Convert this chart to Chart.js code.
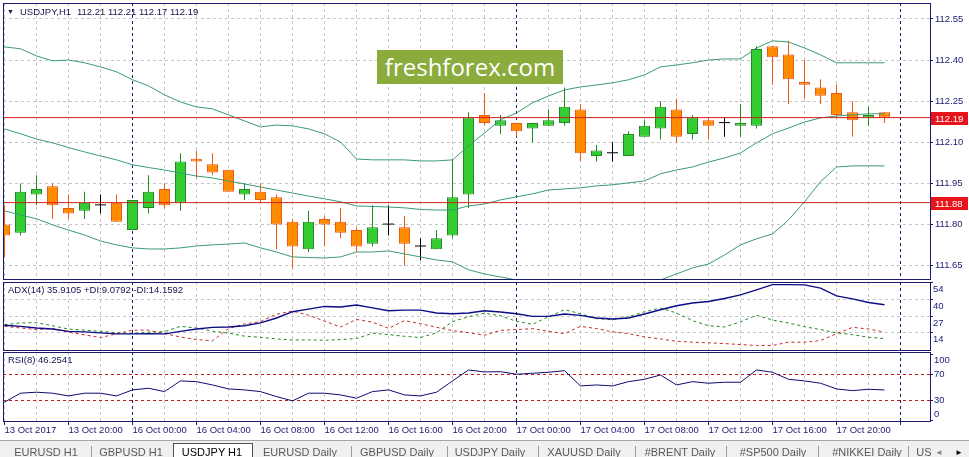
<!DOCTYPE html>
<html>
<head>
<meta charset="utf-8">
<title>USDJPY,H1</title>
<script src="https://cdn.jsdelivr.net/npm/chart.js@4.4.0/dist/chart.umd.min.js"></script>
<style>
  html, body { margin: 0; padding: 0; background: #fff; }
  body { width: 969px; height: 457px; overflow: hidden; position: relative; font-family: 'Liberation Sans', Arial, sans-serif; }
  canvas { position: absolute; left: 0; }
  .head { position: absolute; font-size: 9.5px; color: #14144e; white-space: pre; line-height: 12px; }
  #wm { position: absolute; left: 377px; top: 50px; width: 186px; height: 34px; background: #8bab3c;
        color: #fff; font: 24px 'Open Sans', sans-serif; text-align: center; line-height: 33px; }
  #tabs { position: absolute; left: 0; top: 440px; width: 969px; height: 17px; background: #f0f0f0; border-top: 1px solid #a8a8a8; }
  .tab { position: absolute; top: 5px; font-size: 11px; color: #5a5a5a; transform: translateX(-50%); white-space: nowrap; }
  .sep { position: absolute; top: 5px; width: 1px; height: 12px; background: #9a9a9a; }
  #active { position: absolute; left: 173px; top: 2px; width: 78px; height: 16px; background: #fff;
            border: 1px solid #505050; border-bottom: none; }
</style>
</head>
<body>
<canvas id="main" width="969" height="281" style="top:0"></canvas>
<canvas id="adx" width="969" height="70" style="top:281px"></canvas>
<canvas id="rsi" width="969" height="89" style="top:351px"></canvas>

<div class="head" style="left:7px;top:6px;font-size:7px">&#9660;</div>
<div class="head" style="left:20px;top:6px">USDJPY,H1</div>
<div class="head" style="left:77px;top:6px">112.21 112.21 112.17 112.19</div>
<div class="head" style="left:8px;top:284px">ADX(14) 35.9105 +DI:9.0792 -DI:14.1592</div>
<div class="head" style="left:8px;top:354px">RSI(8) 46.2541</div>
<div id="wm">freshforex.com</div>

<div id="tabs">
  <div id="active"></div>
  <span class="tab" style="left:46px">EURUSD H1</span>
  <span class="sep" style="left:91px"></span>
  <span class="tab" style="left:131px">GBPUSD H1</span>
  <span class="tab" style="left:212px;color:#000">USDJPY H1</span>
  <span class="tab" style="left:300px">EURUSD Daily</span>
  <span class="sep" style="left:351px"></span>
  <span class="tab" style="left:397px">GBPUSD Daily</span>
  <span class="sep" style="left:447px"></span>
  <span class="tab" style="left:490px">USDJPY Daily</span>
  <span class="sep" style="left:538px"></span>
  <span class="tab" style="left:584px">XAUUSD Daily</span>
  <span class="sep" style="left:635px"></span>
  <span class="tab" style="left:680px">#BRENT Daily</span>
  <span class="sep" style="left:726px"></span>
  <span class="tab" style="left:773px">#SP500 Daily</span>
  <span class="sep" style="left:818px"></span>
  <span class="tab" style="left:867px">#NIKKEI Daily</span>
  <span class="sep" style="left:908px"></span>
  <span class="tab" style="left:924px">US</span>
  <span class="tab" style="left:939px;font-size:8px;top:7px;color:#888">&#9668;</span>
  <span class="tab" style="left:959px;font-size:8px;top:7px;color:#000">&#9658;</span>
</div>

<script>
// hourly bars from 13 Oct 2017 16:00 to 17 Oct 23:00 (index = bar number)
const opens = [111.80,111.77,111.91,111.94,111.86,111.85,111.87,111.88,111.78,111.86,
  111.93,111.88,112.04,112.02,112.00,111.91,111.92,111.90,111.81,111.71,
  111.82,111.81,111.78,111.73,111.80,111.79,111.72,111.71,111.76,111.91,
  112.20,112.16,112.17,112.15,112.16,112.17,112.22,112.05,112.06,112.05,
  112.12,112.15,112.22,112.13,112.18,112.17,112.16,112.16,112.45,112.42,
  112.32,112.30,112.28,112.21,112.19,112.21];
const highs = [111.87,111.95,111.98,111.95,111.91,111.92,111.91,111.91,111.89,111.98,
  111.95,112.06,112.07,112.06,112.00,111.95,111.95,111.91,111.82,111.85,
  111.83,111.86,111.79,111.87,111.87,111.83,111.75,111.78,112.04,112.21,
  112.28,112.20,112.17,112.17,112.22,112.30,112.24,112.09,112.10,112.14,
  112.18,112.25,112.26,112.20,112.19,112.19,112.24,112.45,112.45,112.47,
  112.40,112.33,112.31,112.25,112.23,112.21];
const lows = [111.68,111.76,111.87,111.82,111.82,111.82,111.84,111.81,111.78,111.84,
  111.86,111.85,111.97,111.98,111.92,111.89,111.88,111.71,111.64,111.70,
  111.72,111.75,111.70,111.72,111.76,111.65,111.67,111.71,111.75,111.86,
  112.16,112.13,112.12,112.10,112.16,112.16,112.03,112.03,112.03,112.05,
  112.12,112.11,112.10,112.11,112.11,112.12,112.12,112.15,112.31,112.24,
  112.26,112.24,112.19,112.12,112.16,112.17];
const closes = [111.76,111.92,111.93,111.87,111.84,111.88,111.87,111.81,111.89,111.92,
  111.87,112.03,112.03,111.99,111.92,111.93,111.89,111.80,111.72,111.81,
  111.80,111.77,111.72,111.79,111.80,111.73,111.72,111.75,111.90,112.19,
  112.17,112.18,112.14,112.17,112.18,112.23,112.06,112.07,112.06,112.13,
  112.16,112.23,112.12,112.19,112.16,112.17,112.17,112.44,112.41,112.33,
  112.31,112.27,112.20,112.18,112.20,112.19];

const bbUpper = [112.448,112.441,112.415,112.397,112.400,112.390,112.375,112.357,112.328,112.306,
  112.273,112.247,112.229,112.222,112.200,112.178,112.156,112.163,112.160,112.149,
  112.131,112.101,112.039,112.036,112.036,112.036,112.032,112.032,112.036,112.087,
  112.134,112.182,112.207,112.244,112.269,112.291,112.302,112.309,112.317,112.328,
  112.346,112.375,112.382,112.390,112.400,112.404,112.404,112.444,112.470,112.466,
  112.444,112.419,112.390,112.390,112.390,112.390];
const bbMiddle = [112.149,112.131,112.112,112.098,112.081,112.065,112.050,112.036,112.018,112.008,
  111.999,111.988,111.977,111.970,111.959,111.948,111.937,111.926,111.915,111.904,
  111.894,111.883,111.868,111.866,111.864,111.861,111.855,111.853,111.853,111.868,
  111.875,111.890,111.901,111.912,111.926,111.930,111.934,111.941,111.945,111.952,
  111.959,111.985,111.999,112.010,112.028,112.043,112.061,112.098,112.131,112.152,
  112.174,112.189,112.196,112.200,112.204,112.204];
const bbLower = [111.850,111.835,111.821,111.799,111.780,111.762,111.740,111.726,111.715,111.711,
  111.711,111.715,111.722,111.726,111.729,111.733,111.715,111.700,111.682,111.680,
  111.678,111.682,111.700,111.700,111.704,111.693,111.682,111.671,111.664,111.635,
  111.620,111.609,111.598,111.587,111.576,111.565,111.562,111.562,111.565,111.573,
  111.587,111.598,111.620,111.642,111.656,111.689,111.726,111.748,111.766,111.817,
  111.883,111.956,112.010,112.014,112.014,112.014];

const adx = [19.6,18.8,17.5,16.7,14.8,14.4,13.6,12.8,12.8,13.0,
  12.8,14.8,16.7,18.0,18.3,19.3,21.5,25.4,30.4,32.5,
  34.6,34.1,35.7,33.5,31.2,31.7,31.7,29.4,28.8,29.4,
  31.2,30.2,28.8,26.7,26.7,28.6,27.5,25.4,24.6,25.4,
  28.6,32.0,35.1,37.3,38.5,40.9,43.8,47.8,51.9,51.9,
  51.7,49.1,43.0,40.6,37.7,35.9];
const plusDI = [20.1,21.5,21.7,19.3,16.6,15.8,14.8,13.8,13.0,14.2,
  14.6,18.8,17.5,15.0,13.4,11.0,10.1,8.8,7.9,8.1,
  7.7,8.3,9.1,13.4,12.2,10.9,9.9,13.6,22.5,26.4,
  29.2,27.2,22.7,20.4,26.4,32.0,28.8,24.9,24.1,26.4,
  30.4,33.3,29.4,23.3,19.3,18.3,22.3,27.6,23.8,21.5,
  18.5,16.2,13.6,12.2,10.1,9.1];
const minusDI = [18.8,17.5,16.2,17.0,14.2,12.0,9.9,12.8,15.8,15.8,
  13.0,10.3,8.3,7.3,17.0,20.7,22.5,28.4,30.9,27.6,
  23.0,18.2,24.3,22.1,17.2,23.3,20.9,18.0,15.4,13.8,
  11.7,15.6,16.2,17.0,14.8,13.0,18.8,17.0,14.4,13.0,
  10.4,8.8,6.9,6.2,5.7,5.1,4.3,3.6,3.6,6.2,
  6.2,7.5,13.0,18.0,16.7,14.2];
const rsi = [27.8,41.4,42.9,41.4,37.3,41.4,41.4,37.3,46.4,48.9,
  43.8,60.0,58.9,53.9,47.9,46.4,43.8,36.3,29.8,41.4,
  41.4,38.8,33.8,43.8,46.4,38.8,37.3,42.9,60.0,76.6,
  73.6,74.0,70.1,71.6,73.1,75.5,52.4,53.9,52.4,58.9,
  62.5,69.0,53.9,58.9,56.5,58.0,58.0,76.6,73.1,62.5,
  60.0,56.5,47.9,45.3,47.4,46.3];

const timeLabels = ['13 Oct 2017','13 Oct 20:00','16 Oct 00:00','16 Oct 04:00','16 Oct 08:00',
  '16 Oct 12:00','16 Oct 16:00','16 Oct 20:00','17 Oct 00:00','17 Oct 04:00','17 Oct 08:00',
  '17 Oct 12:00','17 Oct 16:00','17 Oct 20:00'];
const daySeparators = [8, 32, 56];     // bar numbers where a new day starts
const priceTicks = [111.65, 111.80, 111.95, 112.10, 112.25, 112.40, 112.55];
const priceLines = [112.19, 111.88];
const adxTicks = [54, 40, 27, 14];
const rsiTicks = [100, 70, 30, 0];
const rsiLevels = [70, 30];

const navy = '#1a1a70';
const grey = '#c6c6c6';
const font = { family: 'Liberation Sans', size: 9.5 };
const xMin = -0.09375, xMax = 57.84375;

const xy = arr => arr.map((v, i) => ({ x: i, y: v }));
const kind = opens.map((o, i) => closes[i] > o ? 'up' : (closes[i] < o ? 'down' : 'doji'));
const wickCol = { up: '#1f8a1f', down: '#ee5a16', doji: '#000' };

const common = {
  responsive: false, animation: false, events: [],
  plugins: { legend: { display: false }, tooltip: { enabled: false } },
  elements: { point: { radius: 0 }, line: { tension: 0 } }
};

// no label-overflow padding: the plot rectangle is placed by layout.padding only
const noPad = s => { s.paddingTop = 0; s.paddingBottom = 0; s.paddingLeft = 0; s.paddingRight = 0; };

function xScale(withLabels) {
  return {
    type: 'linear', min: xMin, max: xMax, offset: false,
    afterBuildTicks: s => {
      const t = [];
      for (let h = 0; h <= 56; h += 2) t.push({ value: h });
      s.ticks = t;
    },
    grid: {
      offset: false,
      color: c => daySeparators.includes(c.tick.value) ? navy : grey,
      drawTicks: withLabels, tickLength: 4,
      tickColor: c => c.tick.value % 4 === 0 ? navy : 'rgba(0,0,0,0)'
    },
    border: { display: false, dash: [3, 3] },
    ticks: withLabels ? {
      autoSkip: false, maxRotation: 0, align: 'start', padding: 0, color: navy, font,
      callback: v => v % 4 === 0 && timeLabels[v / 4] ? timeLabels[v / 4] : ''
    } : { display: false },
    afterFit: s => { s.height = withLabels ? 19 : 0; noPad(s); }
  };
}

function yFit(s) { s.width = 39; noPad(s); }

const framePlugin = {
  id: 'frame',
  afterDraw(chart) {
    const { ctx, chartArea: a } = chart;
    ctx.save();
    ctx.strokeStyle = navy; ctx.lineWidth = 1;
    ctx.strokeRect(Math.round(a.left) + 0.5, Math.round(a.top) + 0.5,
      Math.round(a.right - a.left), Math.round(a.bottom - a.top));
    ctx.restore();
  }
};

const tagPlugin = {
  id: 'tags',
  afterDraw(chart) {
    const { ctx, chartArea: a } = chart;
    const y = chart.scales.y;
    ctx.save();
    priceLines.forEach(v => {
      const py = Math.round(y.getPixelForValue(v));
      ctx.fillStyle = '#e8141c';
      ctx.fillRect(a.right + 1, py - 6, 37, 13);
      ctx.fillStyle = '#fff';
      ctx.font = '9.5px "Liberation Sans"';
      ctx.textBaseline = 'middle';
      ctx.fillText(v.toFixed(2), a.right + 5, py + 1);
    });
    ctx.restore();
  }
};

// ---- price window ----
const bodyData = [], dojiData = [];
opens.forEach((o, i) => {
  if (kind[i] === 'doji') dojiData.push({ x: i, y: [o, closes[i]] });
  else bodyData.push({ x: i, y: [o, closes[i]] });
});

new Chart(document.getElementById('main'), {
  type: 'bar',
  data: {
    datasets: [
      ...priceLines.map(v => ({
        type: 'line', data: [{ x: xMin, y: v }, { x: xMax, y: v }],
        borderColor: '#d41e1e', borderWidth: 1, order: 0
      })),
      { type: 'line', data: xy(bbUpper), borderColor: '#3a9a74', borderWidth: 1, order: 1 },
      { type: 'line', data: xy(bbMiddle), borderColor: '#3a9a74', borderWidth: 1, order: 1 },
      { type: 'line', data: xy(bbLower), borderColor: '#3a9a74', borderWidth: 1, order: 1 },
      {
        type: 'bar', data: dojiData, grouped: false, barThickness: 11, order: 2,
        minBarLength: 1, borderWidth: 0, inflateAmount: 0, backgroundColor: '#000'
      },
      {
        type: 'bar', data: bodyData, grouped: false, barThickness: 11, order: 3,
        borderWidth: 1, borderSkipped: false, inflateAmount: 0,
        backgroundColor: c => c.raw && c.raw.y[1] > c.raw.y[0] ? '#33cc33' : '#ff8c00',
        borderColor: c => c.raw && c.raw.y[1] > c.raw.y[0] ? wickCol.up : wickCol.down
      },
      {
        type: 'bar', data: lows.map((l, i) => ({ x: i, y: [l, highs[i]] })),
        grouped: false, barThickness: 1, order: 4, borderWidth: 0, inflateAmount: 0,
        backgroundColor: c => wickCol[kind[c.dataIndex]]
      }
    ]
  },
  options: {
    ...common,
    layout: { padding: { left: 3, top: 3, right: 0, bottom: 2 } },
    scales: {
      x: xScale(false),
      y: {
        position: 'right', min: 111.6015, max: 112.608, beginAtZero: false,
        afterBuildTicks: s => { s.ticks = priceTicks.map(v => ({ value: v })); },
        afterFit: yFit,
        grid: { color: grey, tickColor: navy, tickLength: 3 },
        border: { display: false, dash: [3, 3] },
        ticks: { autoSkip: false, color: navy, font, padding: 2, callback: v => v.toFixed(2) }
      }
    }
  },
  plugins: [framePlugin, tagPlugin]
});

// ---- ADX window ----
new Chart(document.getElementById('adx'), {
  type: 'line',
  data: {
    datasets: [
      { data: xy(adx), borderColor: '#0c0c86', borderWidth: 1.4 },
      { data: xy(plusDI), borderColor: '#1f8a1f', borderWidth: 1, borderDash: [3, 3] },
      { data: xy(minusDI), borderColor: '#c82828', borderWidth: 1, borderDash: [3, 3] }
    ]
  },
  options: {
    ...common,
    layout: { padding: { left: 3, top: 1, right: 0, bottom: 1 } },
    scales: {
      x: xScale(false),
      y: {
        position: 'right', min: 0, max: 54,
        afterBuildTicks: s => { s.ticks = adxTicks.map(v => ({ value: v })); },
        afterFit: yFit,
        grid: { color: c => c.tick.value === adxTicks[0] ? 'rgba(0,0,0,0)' : grey, tickColor: navy, tickLength: 3 },
        border: { display: false, dash: [3, 3] },
        ticks: { autoSkip: false, color: navy, font, padding: 0, labelOffset: 7 }
      }
    }
  },
  plugins: [framePlugin]
});

// ---- RSI window ----
new Chart(document.getElementById('rsi'), {
  type: 'line',
  data: {
    datasets: [
      { data: xy(rsi), borderColor: '#0c0c70', borderWidth: 1 }
    ]
  },
  options: {
    ...common,
    layout: { padding: { left: 3, top: 1, right: 0, bottom: 0 } },
    scales: {
      x: xScale(true),
      y: {
        position: 'right', min: -0.7, max: 103.8,
        afterBuildTicks: s => { s.ticks = rsiTicks.map(v => ({ value: v })); },
        afterFit: yFit,
        grid: {
          color: c => rsiLevels.includes(c.tick.value) ? '#c41a1a' : 'rgba(0,0,0,0)',
          tickColor: navy, tickLength: 3
        },
        border: { display: false, dash: [3, 3] },
        ticks: {
          autoSkip: false, color: navy, font, padding: 1,
          callback: v => v === rsiTicks[0] ? ['', String(v)] : (v === rsiTicks[3] ? [String(v), ''] : String(v))
        }
      }
    }
  },
  plugins: [framePlugin]
});
</script>
</body>
</html>
